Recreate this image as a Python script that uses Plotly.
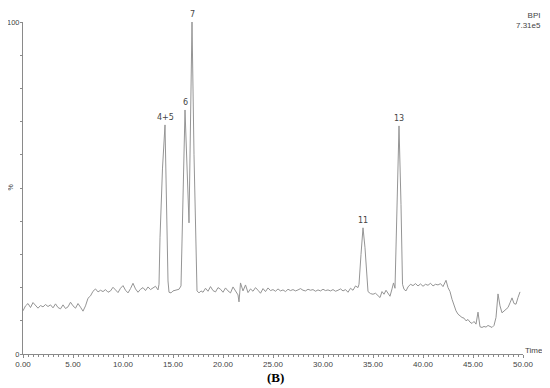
import plotly.graph_objects as go

# Retention time (min) and relative intensity (%)
time_min = [
    0.0, 0.25, 0.5, 0.75, 1.0, 1.25, 1.5, 1.75, 2.0, 2.25, 2.5, 2.75, 3.0, 3.25, 3.5, 3.75,
    4.0, 4.25, 4.5, 4.75, 5.0, 5.25, 5.5, 5.75, 6.0, 6.25, 6.5, 6.75, 7.0, 7.25, 7.5, 7.75,
    8.0, 8.25, 8.5, 8.75, 9.0, 9.25, 9.5, 9.75, 10.0, 10.25, 10.5, 10.75, 11.0, 11.25, 11.5, 11.75,
    12.0, 12.25, 12.5, 12.75, 13.0, 13.25, 13.5, 13.6, 13.7, 13.85, 13.95, 14.2, 14.35, 14.5,
    14.6, 14.8, 15.0, 15.3, 15.6, 15.8, 15.95, 16.2, 16.6, 16.9, 17.1, 17.3, 17.4, 17.6, 17.8,
    18.0, 18.25, 18.5, 18.75, 19.0, 19.25, 19.5, 19.75, 20.0, 20.25, 20.5, 20.75, 21.0, 21.25,
    21.5, 21.6, 21.75, 22.0, 22.25, 22.5, 22.75, 23.0, 23.25, 23.5, 23.75, 24.0, 24.25, 24.5,
    24.75, 25.0, 25.25, 25.5, 25.75, 26.0, 26.25, 26.5, 26.75, 27.0, 27.25, 27.5, 27.75, 28.0,
    28.25, 28.5, 28.75, 29.0, 29.25, 29.5, 29.75, 30.0, 30.25, 30.5, 30.75, 31.0, 31.25, 31.5,
    31.75, 32.0, 32.25, 32.5, 32.75, 33.0, 33.25, 33.5, 33.6, 33.8, 34.0, 34.2, 34.4, 34.5,
    34.75, 35.0, 35.25, 35.5, 35.7, 35.9, 36.1, 36.3, 36.5, 36.7, 36.9, 37.05, 37.2, 37.35,
    37.6, 37.8, 37.95, 38.1, 38.3, 38.5, 38.75, 39.0, 39.25, 39.5, 39.75, 40.0, 40.25, 40.5,
    40.75, 41.0, 41.25, 41.5, 41.75, 42.0, 42.3, 42.5, 42.7, 42.9, 43.1, 43.3, 43.5, 43.7,
    43.9, 44.1, 44.3, 44.5, 44.7, 44.9, 45.1, 45.3, 45.5, 45.7, 45.9, 46.1, 46.3, 46.5, 46.7,
    46.9, 47.1, 47.3, 47.5, 47.7, 47.9, 48.1, 48.3, 48.5, 48.7, 48.9, 49.1, 49.3, 49.5, 49.7,
]
intensity = [
    13.0, 14.5, 15.2, 14.0, 15.5, 14.8, 13.8, 14.6, 14.2, 14.9, 14.3, 14.8, 13.9, 15.1, 14.0, 13.6,
    14.8, 13.7, 14.2, 15.6, 14.5, 13.8, 15.2, 14.1, 12.9, 14.5, 16.8, 17.5, 18.9, 19.6, 18.7, 19.2,
    18.8, 19.4, 18.6, 19.0, 20.1, 19.3, 18.5, 19.8, 20.6, 19.2, 18.4, 19.7, 21.3, 19.6, 18.6, 19.5,
    20.0, 19.1, 20.2, 19.4, 19.9, 20.4, 19.3, 21.0, 35.0, 52.0, 56.0, 69.0, 45.0, 22.0,
    18.6, 18.4, 19.0, 19.3, 19.5, 20.5, 40.0, 73.5, 39.5, 100.0, 60.0, 25.0, 19.0, 18.4, 19.0,
    18.6, 19.8, 18.9, 20.3, 19.1, 18.7, 20.0, 19.5, 18.6, 19.9, 19.0, 18.4, 20.2, 18.8,
    17.8, 15.7, 21.4, 19.0, 20.8, 18.5, 19.6, 18.9, 20.0, 19.2, 18.3, 19.7, 18.8, 19.9,
    19.1, 19.4, 18.9, 19.6, 19.0, 19.3, 18.8, 19.5, 19.1, 19.4, 19.0, 19.3, 19.7, 19.2,
    19.0, 19.5, 19.2, 19.4, 18.9, 19.3, 19.0, 19.5, 19.1, 19.3, 19.0, 19.4, 18.9, 19.2,
    19.6, 19.0, 19.4, 18.6, 19.8, 19.2, 20.5, 20.0, 21.0, 30.0, 38.0, 32.0, 21.0, 18.8,
    18.2, 18.0, 18.3, 17.6, 17.0, 18.8, 18.0, 19.2, 18.1, 17.4, 19.6, 21.4, 19.8, 40.0,
    68.7, 45.0, 21.0, 19.5, 19.0, 20.2, 21.0, 20.6, 21.2, 20.5, 21.1, 20.4, 21.0, 20.7,
    21.3, 20.5, 21.0, 20.8, 21.2, 20.3, 22.2, 20.0, 18.8, 16.5, 14.5, 13.0, 12.0, 11.5,
    11.0, 10.8, 10.0, 10.4, 9.6, 9.2, 9.8, 9.0, 12.6, 8.2, 8.0, 8.3, 8.1, 8.6, 8.3,
    8.0, 8.6, 11.0, 18.1, 14.5, 12.4, 13.0, 13.6, 14.0, 15.4, 16.9, 15.2, 15.0, 17.0, 18.7,
]

peak_labels = ["4+5", "6", "7", "11", "13"]
peak_times = [14.2, 16.2, 16.9, 34.0, 37.6]
peak_heights = [69.0, 73.5, 100.0, 38.0, 68.7]

y_tick_vals = [0, 10, 20, 30, 40, 50, 60, 70, 80, 90, 100]
y_tick_text = ["0", "", "", "", "", "", "", "", "", "", "100"]

axis_color = "#8a8a8a"
text_color = "#444444"

fig = go.Figure()
fig.add_trace(go.Scatter(
    x=time_min, y=intensity, mode="lines",
    line=dict(color="#959595", width=1),
    hoverinfo="skip", showlegend=False,
))

for lab, t, h in zip(peak_labels, peak_times, peak_heights):
    fig.add_annotation(x=t, y=h, text=lab, showarrow=False, yanchor="bottom", yshift=1,
                       font=dict(family="DejaVu Sans", size=8, color=text_color))

fig.add_annotation(xref="paper", yref="paper", x=1.04, y=1.038, text="BPI<br>7.31e5",
                   showarrow=False, xanchor="right", yanchor="top", align="right",
                   font=dict(family="Liberation Sans", size=8, color=text_color))
fig.add_annotation(xref="paper", yref="y", x=-0.016, y=50, text="%", showarrow=False,
                   xanchor="right", textangle=-90,
                   font=dict(family="Liberation Sans", size=7, color=text_color))
fig.add_annotation(xref="paper", yref="paper", x=1.0, y=0.012, text="Time", showarrow=False,
                   xanchor="left", yanchor="middle",
                   font=dict(family="Liberation Sans", size=8, color=text_color))
fig.add_annotation(xref="paper", yref="paper", x=0.505, y=-0.07, text="<b>(B)</b>",
                   showarrow=False, xanchor="center", yanchor="middle",
                   font=dict(family="Liberation Serif", size=13, color="#000000"))

# The page adds an 8 px body margin, so the figure is sized to sit inside the window.
fig.update_layout(
    width=542, height=380,
    margin=dict(l=15, r=27, t=14, b=34),
    paper_bgcolor="white", plot_bgcolor="white",
    xaxis=dict(range=[0, 50], showgrid=False, zeroline=False, automargin=False,
               showline=True, linecolor=axis_color, linewidth=1,
               ticks="outside", tickcolor=axis_color, ticklen=3, tickwidth=1,
               ticklabelstandoff=-1,
               tickmode="linear", tick0=0, dtick=5, tickformat=".2f",
               minor=dict(dtick=0.5, tick0=0, ticks="outside", ticklen=2, tickcolor=axis_color),
               tickfont=dict(family="Liberation Sans", size=8, color=text_color)),
    yaxis=dict(range=[0, 100], showgrid=False, zeroline=False, automargin=False,
               showline=True, linecolor=axis_color, linewidth=1,
               ticks="outside", tickcolor=axis_color, ticklen=2, tickwidth=1,
               ticklabelstandoff=-1,
               tickvals=y_tick_vals, ticktext=y_tick_text,
               tickfont=dict(family="Liberation Sans", size=7.5, color=text_color)),
)

fig.write_html("out.html")
